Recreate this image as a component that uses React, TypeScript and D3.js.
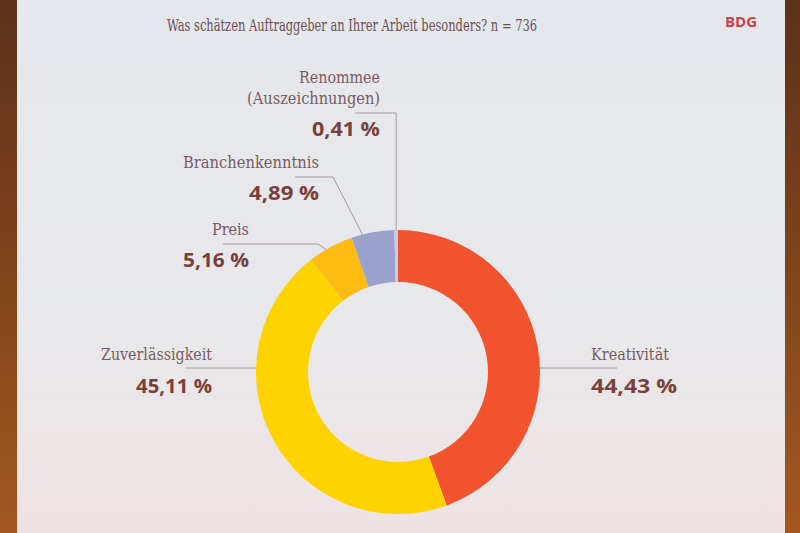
import React from "react";
import * as d3 from "d3";

const categories = ["Kreativität", "Zuverlässigkeit", "Preis", "Branchenkenntnis", "Renommee"];
const subLabels = ["", "", "", "", "(Auszeichnungen)"];
const values = [44.43, 45.11, 5.16, 4.89, 0.41];
const valueLabels = ["44,43 %", "45,11 %", "5,16 %", "4,89 %", "0,41 %"];
const colors = ["#f2532f", "#ffd200", "#fdbb12", "#9aa2cc", "#c6cde6"];
const title = "Was schätzen Auftraggeber an Ihrer Arbeit besonders? n = 736";
const brand = "BDG";

// layout (positions only)
const W = 800, H = 533;
const cx = 398, cy = 372, R = 142, r = 90;
type L = { anchor: "start" | "end"; x: number; nameY: number; subY?: number; valY: number; nameW: number; subW?: number; valW: number; lineX: number; lineY: number; t: number; elbow: "vertical" | "diag" | "none"; elbowX?: number };
const layout: L[] = [
  { anchor: "start", x: 591, nameY: 360, valY: 393, nameW: 78, valW: 86, lineX: 617, lineY: 368, t: 0, elbow: "none" },
  { anchor: "end", x: 212, nameY: 360, valY: 393, nameW: 111, valW: 76, lineX: 185, lineY: 368, t: 0, elbow: "none" },
  { anchor: "end", x: 249, nameY: 235, valY: 267, nameW: 37, valW: 66, lineX: 223, lineY: 244, t: 0.39, elbow: "diag", elbowX: 318 },
  { anchor: "end", x: 319, nameY: 168, valY: 200, nameW: 136, valW: 70, lineX: 295, lineY: 177, t: 0.26, elbow: "diag", elbowX: 333 },
  { anchor: "end", x: 380, nameY: 83, subY: 104, valY: 136, nameW: 81, subW: 133, valW: 68, lineX: 355, lineY: 113, t: 0.5, elbow: "vertical" },
];

const serif = "'DejaVu Serif Condensed', 'DejaVu Serif', serif";
const sans = "Open Sans, sans-serif";

export default function App() {
  const pie = d3.pie<number>().sort(null).value((d) => d);
  const arcs = pie(values);
  const arcGen = d3.arc<d3.PieArcDatum<number>>().innerRadius(r).outerRadius(R);
  const pt = (a: number): [number, number] => [cx + R * Math.sin(a), cy - R * Math.cos(a)];

  const nameColor = "#7a5a60";
  const valColor = "#7a3f38";
  const lineColor = "#a8979d";

  return (
    <svg width={W} height={H} style={{ position: "absolute", left: 0, top: 0 }}>
      <defs>
        <linearGradient id="frame" x1="0" y1="0" x2="0" y2="1">
          <stop offset="0" stopColor="#5c3019" />
          <stop offset="1" stopColor="#a4581f" />
        </linearGradient>
        <linearGradient id="slide" x1="0" y1="0" x2="0" y2="1">
          <stop offset="0" stopColor="#e4e7eb" />
          <stop offset="0.6" stopColor="#e8e8eb" />
          <stop offset="1" stopColor="#eee3e3" />
        </linearGradient>
      </defs>
      <rect x={0} y={0} width={W} height={H} fill="url(#frame)" />
      <rect x={17} y={0} width={768} height={H} fill="url(#slide)" />

      <text x={167} y={31} fontFamily={serif} fontSize={16} fill="#6b4e55" textLength={370} lengthAdjust="spacingAndGlyphs">{title}</text>
      <text x={725} y={27} fontFamily={sans} fontWeight={700} fontSize={14} fill="#cc3f48" textLength={32} lengthAdjust="spacingAndGlyphs">{brand}</text>

      <g transform={`translate(${cx},${cy})`}>
        {arcs.map((a, i) => (
          <path key={i} d={arcGen(a) || ""} fill={colors[i]} />
        ))}
      </g>

      {arcs.map((a, i) => {
        const l = layout[i];
        let d = "";
        if (l.elbow === "none") {
          const dy = l.lineY - cy;
          const ex = cx + (l.anchor === "start" ? 1 : -1) * Math.sqrt(R * R - dy * dy);
          d = `M${l.lineX},${l.lineY}L${ex},${l.lineY}`;
        } else {
          const ang = a.startAngle + (a.endAngle - a.startAngle) * l.t;
          const [px, py] = pt(ang);
          if (l.elbow === "vertical") d = `M${l.lineX},${l.lineY}L${px},${l.lineY}L${px},${py}`;
          else d = `M${l.lineX},${l.lineY}L${l.elbowX},${l.lineY}L${px},${py}`;
        }
        return <path key={"l" + i} d={d} fill="none" stroke={lineColor} strokeWidth={1} />;
      })}

      {categories.map((c, i) => {
        const l = layout[i];
        return (
          <g key={"t" + i} textAnchor={l.anchor}>
            <text x={l.x} y={l.nameY} fontFamily={serif} fontSize={16} fill={nameColor} textLength={l.nameW} lengthAdjust="spacingAndGlyphs">{c}</text>
            {subLabels[i] && (
              <text x={l.x} y={l.subY} fontFamily={serif} fontSize={16} fill={nameColor} textLength={l.subW} lengthAdjust="spacingAndGlyphs">{subLabels[i]}</text>
            )}
            <text x={l.x} y={l.valY} fontFamily={sans} fontWeight={700} fontSize={20} fill={valColor} textLength={l.valW} lengthAdjust="spacingAndGlyphs">{valueLabels[i]}</text>
          </g>
        );
      })}
    </svg>
  );
}
